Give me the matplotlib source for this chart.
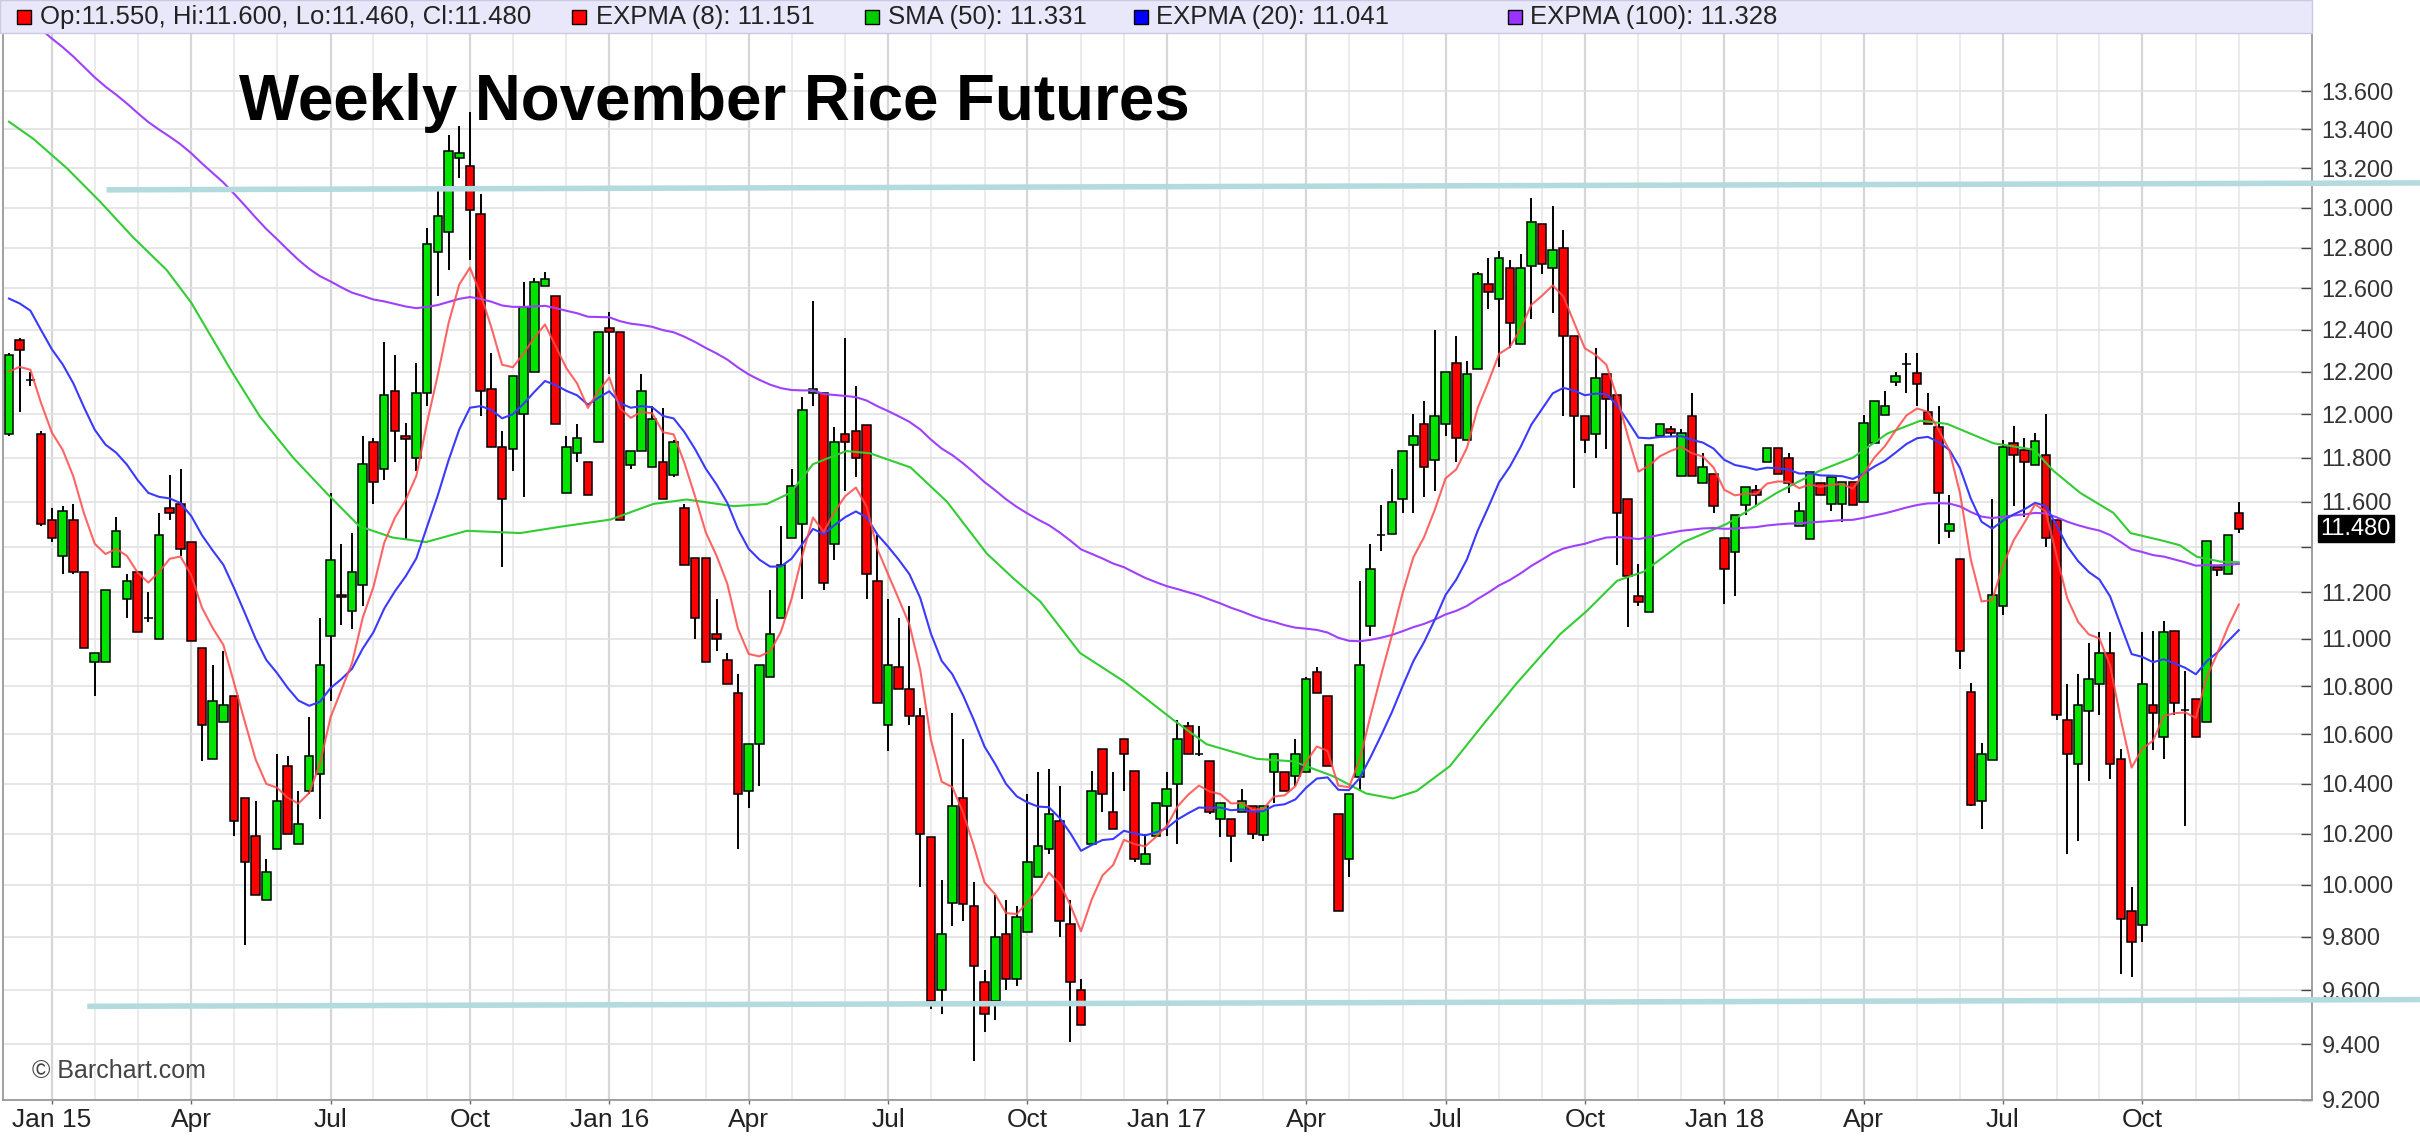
import numpy as np
import pandas as pd
import matplotlib
matplotlib.use('Agg')
import matplotlib.pyplot as plt
from matplotlib.patches import Rectangle
from matplotlib.ticker import FixedLocator, NullLocator, FixedFormatter

# weekly OHLC, first bar = week of 2014-12-08
opens = [11.91, 12.35, 12.16, 11.91, 11.52, 11.36, 11.52, 11.29, 10.90, 10.90,
         11.31, 11.17, 11.29, 11.09, 11.00, 11.57, 11.59, 11.42, 10.96, 10.50,
         10.65, 10.76, 10.34, 10.19, 9.94, 10.14, 10.47, 10.16, 10.37, 10.44,
         11.01, 11.19, 11.12, 11.23, 11.87, 11.75, 12.11, 11.90, 11.80, 12.10,
         12.78, 12.88, 13.25, 13.21, 12.97, 12.12, 11.85, 11.84, 12.00, 12.20,
         12.61, 12.56, 11.64, 11.82, 11.78, 11.87, 12.41, 12.39, 11.765, 11.83,
         11.755, 11.78, 11.72, 11.57, 11.35, 11.35, 11.02, 10.91, 10.77, 10.37,
         10.56, 10.84, 11.09, 11.44, 11.50, 12.10, 12.10, 11.41, 11.91, 11.92,
         11.95, 11.25, 10.64, 10.88, 10.79, 10.675, 10.185, 9.60, 9.93, 10.34,
         9.92, 9.63, 9.56, 9.81, 9.64, 9.82, 10.03, 10.14, 10.25, 9.85,
         9.60, 10.16, 10.54, 10.285, 10.58, 10.45, 10.08, 10.19, 10.31, 10.40,
         10.635, 10.52, 10.49, 10.26, 10.26, 10.285, 10.31, 10.195, 10.445, 10.445,
         10.43, 10.445, 10.86, 10.76, 10.28, 10.10, 10.425, 11.055, 11.45, 11.455,
         11.61, 11.86, 11.955, 11.79, 11.955, 12.24, 11.88, 12.21, 12.62, 12.55,
         12.70, 12.33, 12.71, 12.92, 12.70, 12.80, 12.37, 11.99, 11.91, 12.19,
         12.09, 11.61, 11.185, 11.115, 11.90, 11.93, 11.715, 11.99, 11.685, 11.725,
         11.44, 11.375, 11.585, 11.655, 11.78, 11.845, 11.80, 11.49, 11.435, 11.685,
         11.59, 11.59, 11.69, 11.60, 11.865, 11.995, 12.15, 12.235, 12.195, 12.01,
         11.94, 11.47, 11.345, 10.775, 10.33, 10.495, 11.14, 11.865, 11.835, 11.765,
         11.81, 11.52, 10.66, 10.48, 10.695, 10.81, 10.94, 10.50, 9.90, 9.845,
         10.72, 10.59, 11.035, 10.70, 10.745, 10.65, 11.31, 11.28, 11.55]
highs = [12.29, 12.36, 12.20, 11.92, 11.57, 11.58, 11.59, 11.29, 10.94, 11.21,
         11.53, 11.28, 11.29, 11.20, 11.55, 11.72, 11.75, 11.42, 10.96, 10.89,
         10.95, 10.76, 10.34, 10.33, 10.10, 10.52, 10.51, 10.37, 10.67, 11.09,
         11.64, 11.41, 11.46, 11.90, 11.89, 12.34, 12.28, 11.96, 12.24, 12.90,
         13.09, 13.37, 13.42, 13.49, 13.07, 12.29, 11.92, 12.18, 12.63, 12.65,
         12.68, 12.56, 11.90, 11.955, 11.78, 12.39, 12.485, 12.39, 11.83, 12.19,
         12.04, 12.03, 11.88, 11.59, 11.35, 11.35, 11.17, 10.94, 10.85, 10.56,
         10.89, 11.21, 11.49, 11.75, 12.08, 12.54, 12.10, 11.94, 12.36, 12.13,
         11.95, 11.45, 11.17, 11.09, 11.14, 10.71, 10.185, 10.02, 10.69, 10.58,
         10.01, 9.675, 9.96, 9.94, 9.92, 10.36, 10.445, 10.46, 10.39, 9.94,
         9.64, 10.45, 10.54, 10.445, 10.58, 10.45, 10.20, 10.32, 10.445, 10.66,
         10.65, 10.635, 10.49, 10.32, 10.26, 10.38, 10.31, 10.31, 10.52, 10.445,
         10.58, 10.84, 10.88, 10.76, 10.28, 10.36, 11.25, 11.41, 11.585, 11.75,
         11.83, 12.00, 12.06, 12.40, 12.20, 12.37, 12.25, 12.68, 12.75, 12.785,
         12.74, 12.77, 13.05, 12.92, 13.01, 12.89, 12.37, 11.99, 12.31, 12.19,
         12.09, 11.61, 11.325, 11.86, 11.955, 11.945, 11.93, 12.10, 11.82, 11.725,
         11.44, 11.54, 11.665, 11.675, 11.845, 11.845, 11.82, 11.60, 11.735, 11.685,
         11.71, 11.69, 11.69, 11.995, 12.06, 12.11, 12.20, 12.29, 12.29, 12.10,
         12.04, 11.63, 11.345, 10.815, 10.565, 11.61, 11.88, 11.945, 11.89, 11.915,
         12.00, 11.52, 10.81, 10.85, 10.98, 11.03, 11.03, 10.54, 9.99, 11.03,
         11.035, 11.075, 11.035, 10.865, 10.745, 11.425, 11.31, 11.45, 11.60]
lows = [11.90, 12.01, 12.13, 11.49, 11.42, 11.28, 11.28, 10.96, 10.76, 10.90,
        11.31, 11.09, 11.03, 11.07, 11.00, 11.52, 11.36, 10.99, 10.49, 10.50,
        10.65, 10.19, 9.77, 9.96, 9.94, 10.14, 10.20, 10.16, 10.36, 10.26,
        10.74, 11.06, 11.04, 11.14, 11.59, 11.70, 11.78, 11.43, 11.74, 12.04,
        12.56, 12.69, 13.15, 12.74, 11.99, 11.85, 11.31, 11.74, 11.62, 12.20,
        12.61, 11.955, 11.64, 11.78, 11.63, 11.87, 12.19, 11.52, 11.75, 11.83,
        11.755, 11.61, 11.71, 11.32, 11.00, 10.90, 10.95, 10.81, 10.14, 10.30,
        10.39, 10.84, 11.09, 11.44, 11.17, 12.04, 11.21, 11.34, 11.65, 11.71,
        11.17, 10.73, 10.53, 10.79, 10.64, 9.99, 9.53, 9.51, 9.84, 9.86,
        9.34, 9.445, 9.49, 9.60, 9.615, 9.82, 10.03, 10.12, 9.80, 9.41,
        9.47, 10.16, 10.285, 10.22, 10.37, 10.09, 10.08, 10.19, 10.19, 10.16,
        10.52, 10.51, 10.28, 10.185, 10.09, 10.285, 10.18, 10.17, 10.32, 10.37,
        10.39, 10.445, 10.77, 10.47, 9.90, 10.03, 10.37, 11.01, 11.38, 11.455,
        11.55, 11.55, 11.62, 11.65, 11.90, 11.78, 11.88, 12.21, 12.50, 12.22,
        12.31, 12.33, 12.45, 12.67, 12.48, 11.99, 11.66, 11.82, 11.80, 11.84,
        11.32, 11.05, 11.14, 11.115, 11.90, 11.90, 11.715, 11.715, 11.685, 11.55,
        11.15, 11.185, 11.54, 11.585, 11.78, 11.725, 11.64, 11.49, 11.435, 11.63,
        11.56, 11.51, 11.585, 11.60, 11.865, 11.995, 12.13, 12.10, 12.04, 11.955,
        11.41, 11.44, 10.87, 10.31, 10.22, 10.495, 11.10, 11.58, 11.53, 11.765,
        11.40, 10.66, 10.12, 10.17, 10.41, 10.68, 10.42, 9.66, 9.65, 9.78,
        10.535, 10.50, 10.68, 10.23, 10.59, 10.65, 11.27, 11.28, 11.46]
closes = [12.28, 12.30, 12.16, 11.50, 11.44, 11.56, 11.29, 10.96, 10.94, 11.21,
          11.47, 11.25, 11.03, 11.09, 11.45, 11.55, 11.39, 10.99, 10.64, 10.74,
          10.72, 10.25, 10.09, 9.96, 10.05, 10.33, 10.20, 10.24, 10.51, 10.89,
          11.34, 11.18, 11.29, 11.77, 11.69, 12.09, 11.92, 11.885, 12.10, 12.82,
          12.96, 13.29, 13.28, 12.99, 12.11, 11.85, 11.61, 12.18, 12.51, 12.63,
          12.645, 11.955, 11.85, 11.89, 11.63, 12.39, 12.39, 11.52, 11.83, 12.11,
          11.98, 11.61, 11.87, 11.32, 11.09, 10.90, 11.00, 10.81, 10.36, 10.56,
          10.89, 11.02, 11.32, 11.67, 12.02, 12.12, 11.24, 11.87, 11.87, 11.80,
          11.28, 10.73, 10.89, 10.79, 10.675, 10.20, 9.56, 9.81, 10.31, 9.925,
          9.69, 9.51, 9.80, 9.64, 9.875, 10.09, 10.15, 10.28, 9.86, 9.63,
          9.47, 10.37, 10.36, 10.22, 10.52, 10.10, 10.12, 10.32, 10.38, 10.58,
          10.52, 10.52, 10.285, 10.32, 10.19, 10.33, 10.20, 10.31, 10.52, 10.37,
          10.52, 10.83, 10.77, 10.47, 9.90, 10.36, 10.89, 11.30, 11.45, 11.60,
          11.83, 11.90, 11.755, 11.99, 12.20, 11.89, 12.19, 12.67, 12.58, 12.75,
          12.43, 12.70, 12.93, 12.72, 12.79, 12.37, 11.99, 11.88, 12.17, 12.07,
          11.55, 11.27, 11.16, 11.86, 11.955, 11.915, 11.915, 11.715, 11.755, 11.58,
          11.30, 11.54, 11.665, 11.63, 11.845, 11.725, 11.685, 11.56, 11.735, 11.63,
          11.71, 11.69, 11.585, 11.96, 12.06, 12.04, 12.18, 12.235, 12.14, 11.955,
          11.64, 11.50, 10.95, 10.315, 10.52, 11.19, 11.85, 11.81, 11.78, 11.875,
          11.44, 10.68, 10.52, 10.72, 10.83, 10.94, 10.48, 9.87, 9.78, 10.81,
          10.69, 11.03, 10.73, 10.70, 10.59, 11.425, 11.295, 11.45, 11.48]

dates = pd.date_range('2014-12-08', periods=len(closes), freq='7D')

# 50 week simple average, read at points along the green line (bar index, price)
sma50_bar = [0, 2.3, 5.4, 8.5, 11.6, 14.7, 17, 20.9, 23.4, 26.5, 29.6, 32.7,
             35.8, 38.9, 42.7, 47.7, 51.7, 56.1, 60.1, 63.2, 67.6, 70.7, 72.9,
             75, 78.1, 80.3, 84.1, 87.5, 91.2, 93.7, 96.2, 99.9, 104, 108.6,
             111.7, 116.4, 119.8, 123.5, 126.6, 129.1, 131.3, 134.4, 137.5,
             140.6, 144.7, 147.2, 150, 152.5, 156.2, 160.2, 164.9, 168.9, 172,
             175.2, 178.3, 180.8, 185.1, 188.9, 190.7, 193.2, 196.3, 197.9, 201,
             202.5, 204.1, 206.3, 208]
sma50_val = [13.44, 13.35, 13.20, 13.03, 12.85, 12.69, 12.53, 12.19, 11.99,
             11.80, 11.64, 11.49, 11.44, 11.42, 11.47, 11.46, 11.49, 11.52,
             11.59, 11.61, 11.58, 11.59, 11.64, 11.77, 11.83, 11.82, 11.755,
             11.60, 11.37, 11.26, 11.16, 10.94, 10.82, 10.66, 10.56, 10.50,
             10.49, 10.43, 10.36, 10.34, 10.37, 10.47, 10.64, 10.81, 11.02,
             11.12, 11.25, 11.29, 11.42, 11.50, 11.64, 11.74, 11.80, 11.91,
             11.97, 11.955, 11.866, 11.836, 11.74, 11.64, 11.55, 11.46, 11.425,
             11.406, 11.355, 11.334, 11.331]

# starting values of the exponential averages at the first bar
ema8_start = 12.20
ema20_start = 12.55
ema100_start = 14.05

# hand drawn support / resistance lines: (bar, price) end points
resist_bars = [9.1, 224.9]
resist_px = [13.09, 13.125]
support_bars = [7.3, 224.9]
support_px = [9.54, 9.565]

header_items = [('#ff0000', 'Op:11.550, Hi:11.600, Lo:11.460, Cl:11.480', 17, 40),
                ('#ff0000', 'EXPMA (8): 11.151', 572, 596),
                ('#00cc00', 'SMA (50): 11.331', 865, 888),
                ('#0000ff', 'EXPMA (20): 11.041', 1134, 1156),
                ('#9933ff', 'EXPMA (100): 11.328', 1508, 1530)]
last_price = 11.480

yticks = [round(9.2 + 0.2 * k, 1) for k in range(23)]

W, H = 2420, 1142
FONT = ['Liberation Sans', 'DejaVu Sans']


def ema(values, n, start):
    # exponential moving average seeded with the value seen at the first bar
    a = 2.0 / (n + 1)
    out = [start]
    for v in values[1:]:
        out.append(out[-1] + a * (v - out[-1]))
    return np.array(out)


plt.rcParams['font.family'] = FONT

fig = plt.figure(figsize=(W / 100, H / 100), dpi=100)
ax = fig.add_axes([3.3 / W, 42 / H, 2308.4 / W, 1067 / H])
ax.set_yscale('log')

o = np.array(opens)
h = np.array(highs)
l = np.array(lows)
c = np.array(closes)
x = np.arange(len(c))
up = c >= o

# month grid lines, darker on quarters
months = [i for i in range(1, len(dates)) if dates[i].month != dates[i - 1].month]
quarters = [i for i in months if dates[i].month in (1, 4, 7, 10)]
for i in months:
    if i in quarters:
        ax.axvline(i, color='#d6d6d6', lw=1.6, zorder=0)
    else:
        ax.axvline(i, color='#e8e8e8', lw=1.2, zorder=0)
for p in yticks:
    ax.axhline(p, color='#e2e2e2', lw=1.2, zorder=0)

# candles
ax.vlines(x, l, h, color='black', lw=1.4, zorder=2)
ax.bar(x, np.abs(c - o), bottom=np.minimum(o, c), width=0.8,
       color=np.where(up, '#00e400', '#ff0000'), edgecolor='black',
       linewidth=1.1, zorder=3)

# studies
ax.plot(sma50_bar, sma50_val, color='#33cc33', lw=1.5, zorder=4)
ax.plot(x, ema(c, 100, ema100_start), color='#a040ff', lw=1.5, zorder=4)
ax.plot(x, ema(c, 20, ema20_start), color='#3a3aff', lw=1.5, zorder=4)
ax.plot(x, ema(c, 8, ema8_start), color='#ff4a4a', lw=1.5, alpha=0.85, zorder=4)

ax.plot(resist_bars, resist_px, color='#b3dbdd', lw=4, clip_on=False, zorder=6,
        solid_capstyle='butt')
ax.plot(support_bars, support_px, color='#b3dbdd', lw=4, clip_on=False, zorder=6,
        solid_capstyle='butt')

ax.set_xlim(-0.53, 214.8)
ax.set_ylim(9.2, 13.91)

# price axis on the right
ax.yaxis.tick_right()
ax.yaxis.set_major_locator(FixedLocator(yticks))
ax.yaxis.set_minor_locator(NullLocator())
ylabels = ['' if abs(p - 11.4) < 1e-6 else '%.3f' % p for p in yticks]
ax.yaxis.set_major_formatter(FixedFormatter(ylabels))
ax.tick_params(axis='y', direction='in', length=8, width=1, color='#444',
               pad=7, labelsize=17, labelcolor='#333')

ax.set_xticks(quarters)
ax.set_xticklabels(['Jan %s' % dates[i].strftime('%y') if dates[i].month == 1
                    else dates[i].strftime('%b') for i in quarters])
ax.tick_params(axis='x', direction='out', length=3, width=1, color='#666',
               pad=3, labelsize=19, labelcolor='#222')

for s in ['left', 'bottom', 'right']:
    ax.spines[s].set_color('#999999')
    ax.spines[s].set_linewidth(1.3)
ax.spines['top'].set_visible(False)

ax.text(1 + 9 / 2308.4, last_price, '%.3f' % last_price,
        transform=ax.get_yaxis_transform(), ha='left', va='center',
        fontsize=17, color='white',
        bbox=dict(boxstyle='square,pad=0.12', fc='black', ec='black'))

# header strip with the legend values
fig.patches.append(Rectangle((0, 1 - 33 / H), 2311.7 / W, 33 / H,
                             transform=fig.transFigure, facecolor='#e8e8fa',
                             edgecolor='#c9c9e3', lw=1))
for col, txt, sx, tx in header_items:
    fig.patches.append(Rectangle((sx / W, 1 - 24 / H), 14 / W, 14 / H,
                                 transform=fig.transFigure, facecolor=col,
                                 edgecolor='black', lw=1))
    fig.text(tx / W, 1 - 17 / H, txt, fontsize=18.5, va='center', color='#222')

fig.text(239 / W, 1 - 120 / H, 'Weekly November Rice Futures', fontsize=45.8,
         fontweight='bold', va='baseline', color='black')
fig.text(32 / W, 1 - 1071 / H, '\u00a9 Barchart.com', fontsize=18, va='center',
         color='#444')

fig.savefig('out.png', dpi=100)
